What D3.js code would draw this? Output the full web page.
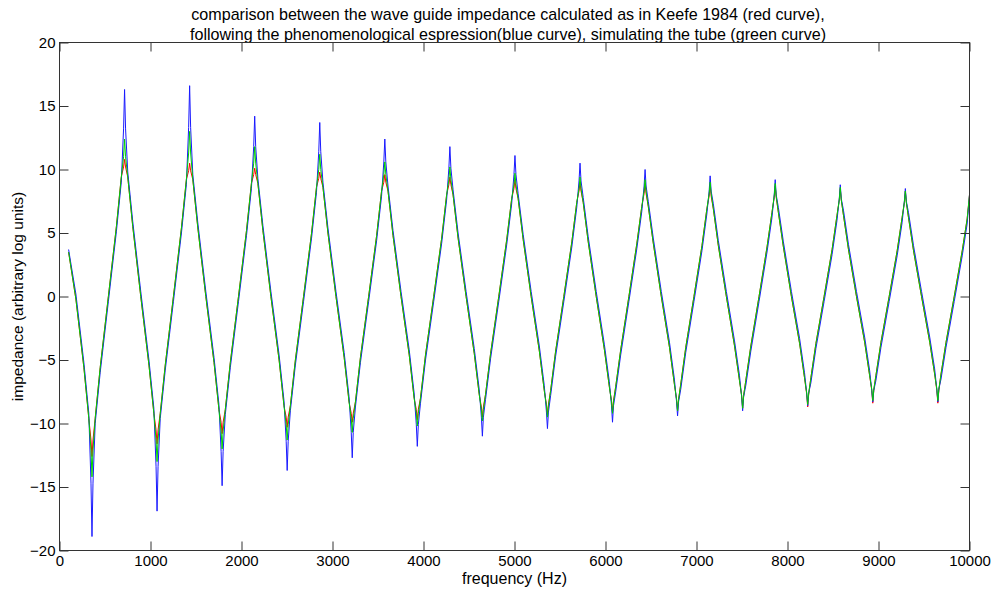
<!DOCTYPE html>
<html>
<head>
<meta charset="utf-8">
<title>wave guide impedance</title>
<script src="https://cdn.jsdelivr.net/npm/d3@7"></script>
<style>
  html, body { margin: 0; padding: 0; background: #fff; }
  svg { display: block; font-family: "Liberation Sans", Arial, sans-serif; }
  .axis text { font-size: 15px; fill: #000; }
  .axis line { stroke: #333; }
  .frame { fill: none; stroke: #333; stroke-width: 1; }
  .curve { fill: none; stroke-width: 1; stroke-linejoin: round; }
</style>
</head>
<body>
<svg id="chart" width="993" height="590"></svg>
<script>
// sample frequencies (Hz), shared by the three curves
const freq = [
  100, 180, 268, 322, 346, 357,
  368, 392, 447, 537, 625, 679, 704, 715, 726, 750, 805, 893, 983, 1037, 1061, 1072,
  1083, 1107, 1162, 1252, 1340, 1394, 1419, 1430, 1441, 1465, 1520, 1608, 1698, 1752, 1776, 1787,
  1798, 1822, 1877, 1967, 2055, 2109, 2134, 2145, 2156, 2180, 2235, 2323, 2413, 2467, 2491, 2502,
  2513, 2537, 2592, 2682, 2770, 2824, 2849, 2860, 2871, 2895, 2950, 3038, 3128, 3182, 3206, 3217,
  3228, 3252, 3307, 3397, 3485, 3539, 3564, 3575, 3586, 3610, 3665, 3753, 3843, 3897, 3921, 3932,
  3943, 3967, 4022, 4112, 4200, 4254, 4279, 4290, 4301, 4325, 4380, 4468, 4558, 4612, 4636, 4647,
  4658, 4682, 4737, 4827, 4915, 4969, 4994, 5005, 5016, 5040, 5095, 5183, 5273, 5327, 5351, 5362,
  5373, 5397, 5452, 5542, 5630, 5684, 5709, 5720, 5731, 5755, 5810, 5898, 5988, 6042, 6066, 6077,
  6088, 6112, 6167, 6257, 6345, 6399, 6424, 6435, 6446, 6470, 6525, 6613, 6703, 6757, 6781, 6792,
  6803, 6827, 6882, 6972, 7060, 7114, 7139, 7150, 7161, 7185, 7240, 7328, 7418, 7472, 7496, 7507,
  7518, 7542, 7597, 7687, 7775, 7829, 7854, 7865, 7876, 7900, 7955, 8043, 8133, 8187, 8211, 8222,
  8233, 8257, 8312, 8402, 8490, 8544, 8569, 8580, 8591, 8615, 8670, 8758, 8848, 8902, 8926, 8937,
  8948, 8972, 9027, 9117, 9205, 9259, 9284, 9295, 9306, 9330, 9385, 9473, 9563, 9617, 9641, 9652,
  9663, 9687, 9742, 9832, 9920, 9974, 10000
];

// Keefe 1984 (red)
const redCurve = [
  3.5, -0.2, -5.6, -9.6, -11.3, -12.6,
  -11.3, -9.6, -5.6, 0, 5.5, 9.4, 10.2, 10.8, 10.2, 9.4, 5.5, 0, -5.4, -9.2, -10.5, -11.6,
  -10.5, -9.2, -5.4, 0, 5.4, 9.2, 9.9, 10.5, 9.9, 9.2, 5.4, 0, -5.2, -8.9, -9.9, -10.8,
  -9.9, -8.9, -5.2, 0, 5.2, 8.9, 9.6, 10.1, 9.6, 8.9, 5.2, 0, -5.0, -8.6, -9.5, -10.3,
  -9.5, -8.6, -5.0, 0, 5.0, 8.6, 9.3, 9.8, 9.3, 8.6, 5.0, 0, -4.8, -8.3, -9.2, -9.9,
  -9.2, -8.3, -4.8, 0, 4.8, 8.3, 9.0, 9.6, 9.0, 8.3, 4.8, 0, -4.6, -8.0, -8.9, -9.7,
  -8.9, -8.0, -4.6, 0, 4.6, 8.0, 8.8, 9.4, 8.8, 8.0, 4.6, 0, -4.5, -7.7, -8.7, -9.5,
  -8.7, -7.7, -4.5, 0, 4.5, 7.7, 8.5, 9.2, 8.5, 7.7, 4.5, 0, -4.3, -7.4, -8.5, -9.3,
  -8.5, -7.4, -4.3, 0, 4.3, 7.4, 8.3, 9.0, 8.3, 7.4, 4.3, 0, -4.2, -7.1, -8.2, -9.1,
  -8.2, -7.1, -4.2, 0, 4.2, 7.1, 8.1, 8.9, 8.1, 7.1, 4.2, 0, -4.0, -6.9, -8.1, -9.0,
  -8.1, -6.9, -4.0, 0, 4.0, 6.9, 7.9, 8.8, 7.9, 6.9, 4.0, 0, -3.9, -6.6, -7.8, -8.8,
  -7.8, -6.6, -3.9, 0, 3.9, 6.6, 7.8, 8.7, 7.8, 6.6, 3.9, 0, -3.7, -6.4, -7.7, -8.7,
  -7.7, -6.4, -3.7, 0, 3.7, 6.4, 7.6, 8.5, 7.6, 6.4, 3.7, 0, -3.6, -6.2, -7.4, -8.4,
  -7.4, -6.2, -3.6, 0, 3.6, 6.2, 7.4, 8.3, 7.4, 6.2, 3.6, 0, -3.6, -6.1, -7.4, -8.4,
  -7.4, -6.1, -3.6, 0, 3.6, 6.1, 8.0
];

// phenomenological expression (blue)
const blueCurve = [
  3.7, 0.2, -5.2, -9.2, -14.7, -18.9,
  -14.7, -10.0, -6.0, -0.4, 5.1, 9.0, 13.2, 16.3, 13.2, 9.8, 5.9, 0.4, -5.0, -8.8, -13.4, -16.9,
  -13.4, -9.6, -5.8, -0.4, 5.0, 8.8, 13.3, 16.6, 13.3, 9.6, 5.8, 0.4, -4.8, -8.5, -12.2, -14.9,
  -12.2, -9.3, -5.6, -0.4, 4.8, 8.5, 11.8, 14.2, 11.8, 9.3, 5.6, 0.4, -4.6, -8.2, -11.4, -13.7,
  -11.4, -9.0, -5.4, -0.4, 4.6, 8.2, 11.4, 13.7, 11.4, 9.0, 5.4, 0.4, -4.4, -7.9, -10.7, -12.7,
  -10.7, -8.7, -5.2, -0.4, 4.4, 7.9, 10.6, 12.4, 10.6, 8.7, 5.2, 0.4, -4.2, -7.6, -10.1, -11.8,
  -10.1, -8.4, -5.0, -0.4, 4.2, 7.6, 10.1, 11.8, 10.1, 8.4, 5.0, 0.4, -4.1, -7.3, -9.5, -11.0,
  -9.5, -8.1, -4.9, -0.4, 4.1, 7.3, 9.6, 11.1, 9.6, 8.1, 4.9, 0.4, -3.9, -7.0, -9.1, -10.4,
  -9.1, -7.8, -4.7, -0.4, 3.9, 7.0, 9.1, 10.5, 9.1, 7.8, 4.7, 0.4, -3.8, -6.7, -8.6, -9.9,
  -8.6, -7.5, -4.6, -0.4, 3.8, 6.7, 8.7, 10.0, 8.7, 7.5, 4.6, 0.4, -3.6, -6.5, -8.3, -9.4,
  -8.3, -7.3, -4.4, -0.4, 3.6, 6.5, 8.3, 9.5, 8.3, 7.3, 4.4, 0.4, -3.5, -6.2, -7.9, -9.0,
  -7.9, -7.0, -4.3, -0.4, 3.5, 6.2, 8.0, 9.2, 8.0, 7.0, 4.3, 0.4, -3.3, -6.0, -7.6, -8.6,
  -7.6, -6.8, -4.1, -0.4, 3.3, 6.0, 7.7, 8.8, 7.7, 6.8, 4.1, 0.4, -3.2, -5.8, -7.4, -8.3,
  -7.4, -6.6, -4.0, -0.4, 3.2, 5.8, 7.5, 8.5, 7.5, 6.6, 4.0, 0.4, -3.2, -5.7, -7.3, -8.3,
  -7.3, -6.5, -4.0, -0.4, 3.2, 5.7, 8.0
];

// simulated tube (green)
const greenCurve = [
  3.5, -0.2, -5.6, -9.6, -12.1, -14.2,
  -12.1, -9.6, -5.6, 0, 5.5, 9.4, 11.0, 12.4, 11.0, 9.4, 5.5, 0, -5.4, -9.2, -11.3, -13.0,
  -11.3, -9.2, -5.4, 0, 5.4, 9.2, 11.3, 13.0, 11.3, 9.2, 5.4, 0, -5.2, -8.9, -10.6, -12.0,
  -10.6, -8.9, -5.2, 0, 5.2, 8.9, 10.5, 11.8, 10.5, 8.9, 5.2, 0, -5.0, -8.6, -10.1, -11.3,
  -10.1, -8.6, -5.0, 0, 5.0, 8.6, 10.0, 11.2, 10.0, 8.6, 5.0, 0, -4.8, -8.3, -9.6, -10.7,
  -9.6, -8.3, -4.8, 0, 4.8, 8.3, 9.6, 10.6, 9.6, 8.3, 4.8, 0, -4.6, -8.0, -9.2, -10.2,
  -9.2, -8.0, -4.6, 0, 4.6, 8.0, 9.2, 10.2, 9.2, 8.0, 4.6, 0, -4.5, -7.7, -8.9, -9.8,
  -8.9, -7.7, -4.5, 0, 4.5, 7.7, 8.8, 9.7, 8.8, 7.7, 4.5, 0, -4.3, -7.4, -8.6, -9.5,
  -8.6, -7.4, -4.3, 0, 4.3, 7.4, 8.5, 9.4, 8.5, 7.4, 4.3, 0, -4.2, -7.1, -8.3, -9.2,
  -8.3, -7.1, -4.2, 0, 4.2, 7.1, 8.3, 9.2, 8.3, 7.1, 4.2, 0, -4.0, -6.9, -8.1, -9.0,
  -8.1, -6.9, -4.0, 0, 4.0, 6.9, 8.1, 9.0, 8.1, 6.9, 4.0, 0, -3.9, -6.6, -7.8, -8.8,
  -7.8, -6.6, -3.9, 0, 3.9, 6.6, 7.9, 8.9, 7.9, 6.6, 3.9, 0, -3.7, -6.4, -7.6, -8.5,
  -7.6, -6.4, -3.7, 0, 3.7, 6.4, 7.6, 8.6, 7.6, 6.4, 3.7, 0, -3.6, -6.2, -7.3, -8.2,
  -7.3, -6.2, -3.6, 0, 3.6, 6.2, 7.4, 8.3, 7.4, 6.2, 3.6, 0, -3.6, -6.1, -7.3, -8.2,
  -7.3, -6.1, -3.6, 0, 3.6, 6.1, 8.0
];

const xTicks = [0, 1000, 2000, 3000, 4000, 5000, 6000, 7000, 8000, 9000, 10000];
const yTicks = [-20, -15, -10, -5, 0, 5, 10, 15, 20];

const titleLines = [
  "comparison between the wave guide impedance calculated as in Keefe 1984 (red curve),",
  "following the phenomenological espression(blue curve), simulating the tube (green curve)"
];
const xLabel = "frequency (Hz)";
const yLabel = "impedance (arbitrary log units)";

// drawn in this order, green ends up on top
const series = [
  { name: "red", values: redCurve, color: "#ff0000" },
  { name: "blue", values: blueCurve, color: "#1a1aff" },
  { name: "green", values: greenCurve, color: "#00d000" }
];

(function () {
  "use strict";

  const svg = d3.select("#chart");
  const left = 59.5, right = 969.5, top = 42.5, bottom = 550.5;
  const tickLen = 9;

  const x = d3.scaleLinear().domain([0, 10000]).range([left, right]);
  const y = d3.scaleLinear().domain([-20, 20]).range([bottom, top]);

  // title, two centred lines
  svg.append("g")
    .selectAll("text")
    .data(titleLines)
    .join("text")
    .attr("x", 508)
    .attr("y", (d, i) => 20 + i * 19.5)
    .attr("text-anchor", "middle")
    .style("font-size", "16.1px")
    .text((d) => d);

  // curves, clipped to the axes box
  svg.append("clipPath").attr("id", "plot-clip")
    .append("rect")
    .attr("x", left).attr("y", top)
    .attr("width", right - left).attr("height", bottom - top);

  const line = d3.line()
    .x((d, i) => x(freq[i]))
    .y((d) => y(d));

  svg.append("g")
    .attr("clip-path", "url(#plot-clip)")
    .selectAll("path.curve")
    .data(series)
    .join("path")
    .attr("class", "curve")
    .attr("stroke", (s) => s.color)
    .attr("d", (s) => line(s.values));

  // axes, ticks pointing inward like matlab
  const bottomAxis = d3.axisBottom(x).tickValues(xTicks).tickFormat(d3.format("d"))
    .tickSizeInner(-tickLen).tickSizeOuter(0).tickPadding(5);
  const topAxis = d3.axisTop(x).tickValues(xTicks).tickFormat("")
    .tickSizeInner(-tickLen).tickSizeOuter(0);
  const leftAxis = d3.axisLeft(y).tickValues(yTicks).tickFormat(d3.format("d"))
    .tickSizeInner(-tickLen).tickSizeOuter(0).tickPadding(4);
  const rightAxis = d3.axisRight(y).tickValues(yTicks).tickFormat("")
    .tickSizeInner(-tickLen).tickSizeOuter(0);

  svg.append("g").attr("class", "axis").attr("transform", `translate(0,${bottom})`).call(bottomAxis);
  svg.append("g").attr("class", "axis").attr("transform", `translate(0,${top})`).call(topAxis);
  svg.append("g").attr("class", "axis").attr("transform", `translate(${left},0)`).call(leftAxis);
  svg.append("g").attr("class", "axis").attr("transform", `translate(${right},0)`).call(rightAxis);
  svg.selectAll(".axis .domain").remove();
  svg.selectAll(".axis text").attr("font-family", null).attr("font-size", null);

  svg.append("rect")
    .attr("class", "frame")
    .attr("x", left).attr("y", top)
    .attr("width", right - left).attr("height", bottom - top);

  // axis labels
  svg.append("text")
    .attr("x", (left + right) / 2)
    .attr("y", 584)
    .attr("text-anchor", "middle")
    .style("font-size", "16px")
    .text(xLabel);

  svg.append("text")
    .attr("transform", `translate(23,${(top + bottom) / 2}) rotate(-90)`)
    .attr("text-anchor", "middle")
    .style("font-size", "15.5px")
    .text(yLabel);
})();
</script>
</body>
</html>
